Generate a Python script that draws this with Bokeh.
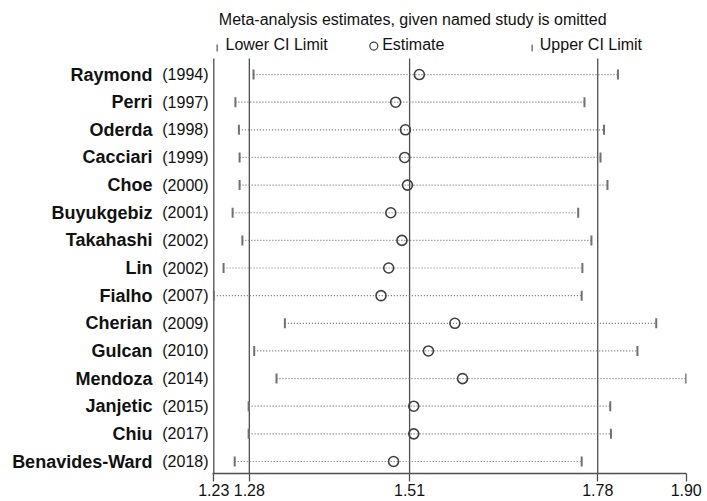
from bokeh.plotting import figure
from bokeh.models import Range1d, FixedTicker, ColumnDataSource, LinearAxis
from bokeh.core.properties import value
from bokeh.embed import file_html
from bokeh.resources import INLINE

# ---- data ----
studies = ["Raymond", "Perri", "Oderda", "Cacciari", "Choe", "Buyukgebiz",
           "Takahashi", "Lin", "Fialho", "Cherian", "Gulcan", "Mendoza",
           "Janjetic", "Chiu", "Benavides-Ward"]
years = ["(1994)", "(1997)", "(1998)", "(1999)", "(2000)", "(2001)",
         "(2002)", "(2002)", "(2007)", "(2009)", "(2010)", "(2014)",
         "(2015)", "(2017)", "(2018)"]
estimates = [1.524, 1.490, 1.504, 1.503, 1.507, 1.483, 1.499, 1.480,
             1.469, 1.575, 1.537, 1.586, 1.516, 1.516, 1.487]
lower_ci = [1.286, 1.260, 1.265, 1.266, 1.266, 1.256, 1.270, 1.243,
            1.229, 1.331, 1.287, 1.319, 1.279, 1.279, 1.259]
upper_ci = [1.809, 1.761, 1.789, 1.784, 1.794, 1.752, 1.771, 1.758,
            1.757, 1.864, 1.837, 1.907, 1.798, 1.799, 1.757]
overall_est = 1.51
overall_lo = 1.28
overall_hi = 1.78
tick_labels = ["1.23", "1.28", "1.51", "1.78", "1.90"]
title_text = "Meta-analysis estimates, given named study is omitted"
legend_texts = ["Lower CI Limit", "Estimate", "Upper CI Limit"]

# ---- layout constants (pixels) ----
W, H = 707, 501
BORDER_L, BORDER_R, BORDER_B = 212, 21, 28
FRAME_W = W - BORDER_L - BORDER_R
FRAME_H = H - BORDER_B
ROW_PX = 27.64

n = len(studies)
rows = [n - i for i in range(n)]
xmin, xmax = min(lower_ci), max(upper_ci)
ppu = 472.4 / (xmax - xmin)           # pixels per data unit on x
x_start = xmin - 1.3 / ppu
x_end = x_start + FRAME_W / ppu
y_start = 1 - 12 / ROW_PX
y_end = y_start + FRAME_H / ROW_PX
y_top = n + 16 / ROW_PX                 # top of the plotting region


def px(dx):
    """horizontal offset in pixels -> data units"""
    return dx / ppu


def py(dy):
    """vertical distance above the top row in pixels -> data units"""
    return n + dy / ROW_PX


src = ColumnDataSource(dict(y=rows, est=estimates, lo=lower_ci, hi=upper_ci))

FONT = "Liberation Sans"
DARK = "#505050"
TXT = "#111111"

p = figure(width=W, height=H, output_backend="svg", toolbar_location=None,
           x_range=Range1d(x_start, x_end), y_range=Range1d(y_start, y_end),
           min_border_left=BORDER_L, min_border_right=BORDER_R, min_border_top=0,
           min_border_bottom=BORDER_B, title_location=None)
p.outline_line_color = None
p.grid.visible = False

# x axis
xticks = [xmin, overall_lo, overall_est, overall_hi, xmax]
p.xaxis.ticker = FixedTicker(ticks=xticks)
p.xaxis.major_label_overrides = {t: l for t, l in zip(xticks, tick_labels)}
p.xaxis.axis_line_color = DARK
p.xaxis.axis_line_width = 1.3
p.xaxis.major_tick_line_color = DARK
p.xaxis.major_tick_line_width = 1.3
p.xaxis.major_tick_out = 8
p.xaxis.major_tick_in = 0
p.xaxis.minor_tick_line_color = None
p.xaxis.major_label_standoff = 2
p.xaxis.major_label_text_font = FONT
p.xaxis.major_label_text_font_size = "16px"
p.xaxis.major_label_text_color = TXT

# inner y axis: years
p.yaxis.ticker = FixedTicker(ticks=rows)
p.yaxis.major_label_overrides = {r: y for r, y in zip(rows, years)}
p.yaxis.axis_line_color = None
p.yaxis.major_tick_line_color = None
p.yaxis.major_tick_out = 0
p.yaxis.major_tick_in = 0
p.yaxis.minor_tick_line_color = None
p.yaxis.major_label_standoff = 4
p.yaxis.major_label_text_font = FONT
p.yaxis.major_label_text_font_size = "16px"
p.yaxis.major_label_text_color = TXT

# outer y axis: study names in bold
name_axis = LinearAxis(ticker=FixedTicker(ticks=rows),
                       major_label_overrides={r: s for r, s in zip(rows, studies)})
name_axis.axis_line_color = None
name_axis.major_tick_line_color = None
name_axis.major_tick_out = 0
name_axis.major_tick_in = 0
name_axis.minor_tick_line_color = None
name_axis.major_label_standoff = 7
name_axis.major_label_text_font = FONT
name_axis.major_label_text_font_size = "18px"
name_axis.major_label_text_font_style = "bold"
name_axis.major_label_text_color = TXT
p.add_layout(name_axis, "left")

# left frame line and reference lines (overall estimate and its CI)
ref_x = [xmin, overall_lo, overall_est, overall_hi]
p.segment(x0=ref_x, x1=ref_x, y0=[y_start] * 4, y1=[y_top] * 4,
          line_color=DARK, line_width=1.3)

# CI dotted lines
p.segment(x0="lo", x1="hi", y0="y", y1="y", source=src, line_color="#707070",
          line_width=1.2, line_dash="1 2")
# end caps
p.scatter(x="lo", y="y", source=src, marker="dash", angle=1.5708, size=10,
          line_color="#707070", line_width=2)
p.scatter(x="hi", y="y", source=src, marker="dash", angle=1.5708, size=10,
          line_color="#707070", line_width=2)
# estimates
p.scatter(x="est", y="y", source=src, marker="circle", size=10, fill_alpha=0,
          line_color="#404040", line_width=1.6)

# title
p.text(x=[xmin], y=[py(55)], text=[title_text], x_offset=5,
       text_align="left", text_baseline="alphabetic", text_font=value(FONT),
       text_font_size="16px", text_color=TXT)

# legend row
p.text(x=[xmin + px(11.7), xmin + px(168.4), xmin + px(326)], y=[py(30)] * 3,
       text=legend_texts, text_align="left", text_baseline="alphabetic",
       text_font=value(FONT), text_font_size="16px", text_color=TXT)
p.scatter(x=[xmin + px(3.4), xmin + px(318.4)], y=[py(26.5)] * 2, marker="dash",
          angle=1.5708, size=7, line_color="#808080", line_width=1.6)
p.scatter(x=[xmin + px(160)], y=[py(28.5)], marker="circle", size=8, fill_alpha=0,
          line_color="#404040", line_width=1.2)

open("out.html", "w").write(file_html(p, INLINE))
